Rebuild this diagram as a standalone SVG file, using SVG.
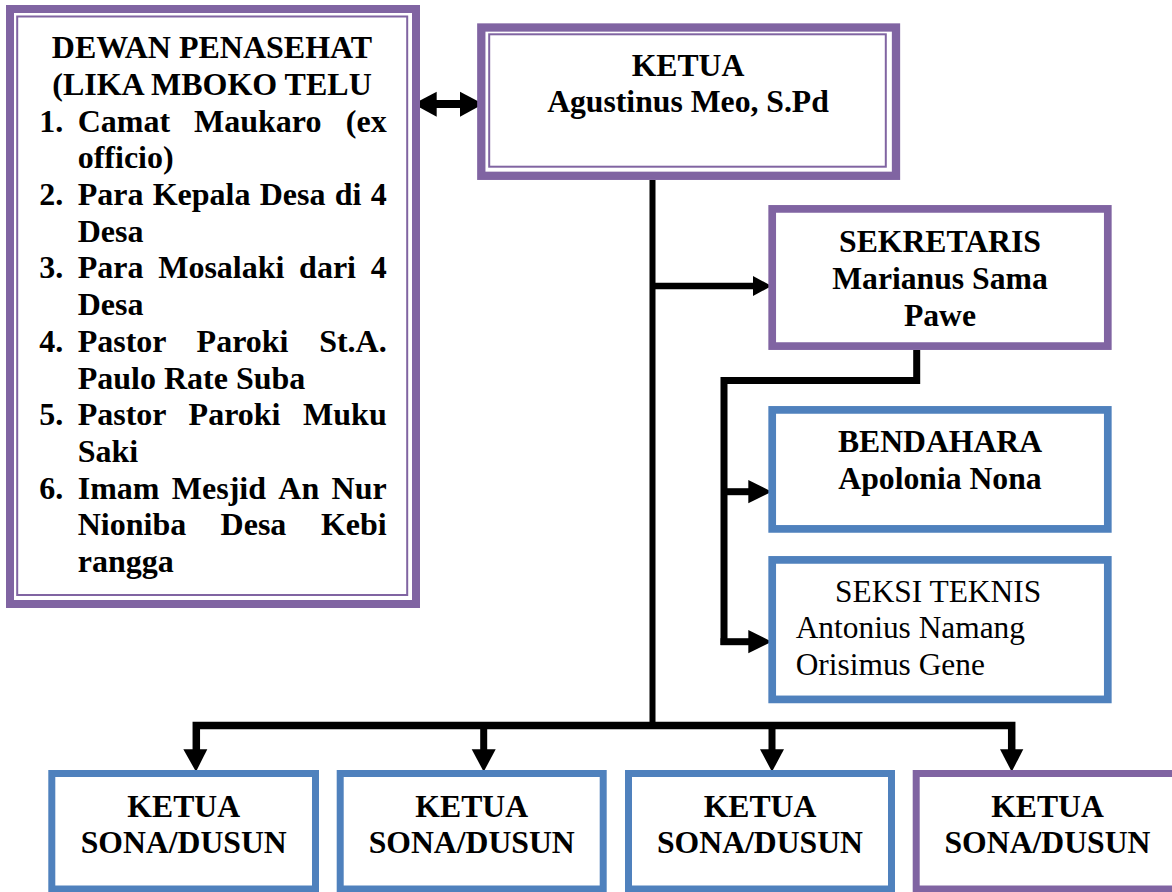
<svg xmlns="http://www.w3.org/2000/svg" width="1172" height="892" viewBox="0 0 1172 892">
<style>
.t{font-family:"Liberation Serif","Times New Roman",serif;fill:#000;}
.b{font-weight:bold;font-size:31.7px;}
.bd{font-weight:bold;font-size:32px;}
.r{font-weight:normal;font-size:31.4px;}
.c{text-anchor:middle;}
.e{text-anchor:end;}
.pu{fill:#fff;stroke:#8064A2;}
.bl{fill:#fff;stroke:#4F81BD;}
.thin{fill:none;stroke:#8064A2;stroke-width:2;}
.ln{fill:none;stroke:#000;stroke-linejoin:miter;stroke-linecap:butt;}
.ah{fill:#000;stroke:none;}
</style>
<rect x="0" y="0" width="1172" height="892" fill="#fff"/>

<g id="connectors">
  <!-- double arrow dewan <-> ketua -->
  <line class="ln" x1="434" y1="104" x2="462" y2="104" stroke-width="8"/>
  <polygon class="ah" points="413.3,104 436.7,91.7 436.7,116.7"/>
  <polygon class="ah" points="483.3,104 460,91.7 460,116.7"/>
  <!-- main vertical -->
  <line class="ln" x1="652.5" y1="180" x2="652.5" y2="729" stroke-width="6"/>
  <!-- to sekretaris -->
  <line class="ln" x1="652.5" y1="286" x2="756" y2="286" stroke-width="6.5"/>
  <polygon class="ah" points="771.5,286 753,276 753,296"/>
  <!-- sekretaris down to bendahara / seksi -->
  <polyline class="ln" points="916.7,350 916.7,380.5 724,380.5 724,645" stroke-width="7"/>
  <line class="ln" x1="724" y1="491.7" x2="750" y2="491.7" stroke-width="7"/>
  <polygon class="ah" points="771.7,491.7 748.3,480 748.3,503.3"/>
  <line class="ln" x1="720.5" y1="641.7" x2="750" y2="641.7" stroke-width="7"/>
  <polygon class="ah" points="771.7,641.7 748.3,630 748.3,653.3"/>
  <!-- bottom bus -->
  <polyline class="ln" points="196.3,751 196.3,725.5 1011.7,725.5 1011.7,751" stroke-width="7.5"/>
  <line class="ln" x1="483.7" y1="725.5" x2="483.7" y2="751" stroke-width="7"/>
  <line class="ln" x1="772" y1="725.5" x2="772" y2="751" stroke-width="7"/>
  <polygon class="ah" points="196,771.7 183.3,749.3 207.3,749.3"/>
  <polygon class="ah" points="483.7,771.7 471.7,749.3 495.7,749.3"/>
  <polygon class="ah" points="772,771.7 760,749.3 784,749.3"/>
  <polygon class="ah" points="1011.7,771.7 1000,749.3 1023.3,749.3"/>
</g>

<g id="dewan">
  <rect class="pu" x="10" y="9" width="406" height="595" stroke-width="8"/>
  <rect class="thin" x="17.2" y="16.5" width="390" height="578.5"/>
  <text class="t bd c" x="212" y="58.2">DEWAN PENASEHAT</text>
  <text class="t bd c" x="212" y="94.9">(LIKA MBOKO TELU</text>

  <text class="t bd" x="39.3" y="131.6">1.</text>
  <text class="t bd" x="77.7" y="131.6">Camat</text>
  <text class="t bd" x="194" y="131.6">Maukaro</text>
  <text class="t bd e" x="386.7" y="131.6">(ex</text>
  <text class="t bd" x="77.7" y="168.3">officio)</text>

  <text class="t bd" x="39.3" y="205">2.</text>
  <text class="t bd" x="77.7" y="205">Para</text>
  <text class="t bd" x="152.7" y="205">Kepala</text>
  <text class="t bd" x="259.7" y="205">Desa</text>
  <text class="t bd" x="334.7" y="205">di</text>
  <text class="t bd e" x="386.7" y="205">4</text>
  <text class="t bd" x="77.7" y="241.7">Desa</text>

  <text class="t bd" x="39.3" y="278.4">3.</text>
  <text class="t bd" x="77.7" y="278.4">Para</text>
  <text class="t bd" x="158.2" y="278.4">Mosalaki</text>
  <text class="t bd" x="299.1" y="278.4">dari</text>
  <text class="t bd e" x="386.7" y="278.4">4</text>
  <text class="t bd" x="77.7" y="315.1">Desa</text>

  <text class="t bd" x="39.3" y="351.8">4.</text>
  <text class="t bd" x="77.7" y="351.8">Pastor</text>
  <text class="t bd" x="196.6" y="351.8">Paroki</text>
  <text class="t bd e" x="386.7" y="351.8">St.A.</text>
  <text class="t bd" x="77.7" y="388.5">Paulo Rate Suba</text>

  <text class="t bd" x="39.3" y="425.2">5.</text>
  <text class="t bd" x="77.7" y="425.2">Pastor</text>
  <text class="t bd" x="188.6" y="425.2">Paroki</text>
  <text class="t bd e" x="386.7" y="425.2">Muku</text>
  <text class="t bd" x="77.7" y="461.9">Saki</text>

  <text class="t bd" x="39.3" y="498.6">6.</text>
  <text class="t bd" x="77.7" y="498.6">Imam</text>
  <text class="t bd" x="171.8" y="498.6">Mesjid</text>
  <text class="t bd" x="278.3" y="498.6">An</text>
  <text class="t bd e" x="386.7" y="498.6">Nur</text>
  <text class="t bd" x="77.7" y="535.3">Nioniba</text>
  <text class="t bd" x="220.6" y="535.3">Desa</text>
  <text class="t bd e" x="386.7" y="535.3">Kebi</text>
  <text class="t bd" x="77.7" y="572">rangga</text>
</g>

<g id="ketua">
  <rect class="pu" x="481.3" y="27.5" width="414.7" height="148.3" stroke-width="8.3"/>
  <rect class="thin" x="489.2" y="34.3" width="396.6" height="132.4"/>
  <text class="t b c" x="688" y="76">KETUA</text>
  <text class="t b c" x="688" y="111.7">Agustinus Meo, S.Pd</text>
</g>

<g id="sekretaris">
  <rect class="pu" x="772.2" y="208.9" width="335.6" height="137.2" stroke-width="7.7"/>
  <text class="t b c" x="940" y="252">SEKRETARIS</text>
  <text class="t b c" x="940" y="289">Marianus Sama</text>
  <text class="t b c" x="940" y="326">Pawe</text>
</g>

<g id="bendahara">
  <rect class="bl" x="772.2" y="409.9" width="335.6" height="119" stroke-width="7.7"/>
  <text class="t b c" x="940" y="451.7">BENDAHARA</text>
  <text class="t b c" x="940" y="489.3">Apolonia Nona</text>
</g>

<g id="seksi">
  <rect class="bl" x="772.2" y="559.9" width="335.6" height="139.5" stroke-width="7.7"/>
  <text class="t r" x="835" y="601.7">SEKSI TEKNIS</text>
  <text class="t r" x="795.7" y="637.5">Antonius Namang</text>
  <text class="t r" x="795.7" y="675">Orisimus Gene</text>
</g>

<g id="sona1">
  <rect class="bl" x="51.8" y="773.5" width="263.7" height="115.5" stroke-width="7"/>
  <text class="t b c" x="183.7" y="816.7">KETUA</text>
  <text class="t b c" x="183.7" y="853.3">SONA/DUSUN</text>
</g>
<g id="sona2">
  <rect class="bl" x="340.2" y="773.5" width="263" height="115.5" stroke-width="7"/>
  <text class="t b c" x="471.7" y="816.7">KETUA</text>
  <text class="t b c" x="471.7" y="853.3">SONA/DUSUN</text>
</g>
<g id="sona3">
  <rect class="bl" x="628.5" y="773.5" width="263" height="115.5" stroke-width="7"/>
  <text class="t b c" x="760" y="816.7">KETUA</text>
  <text class="t b c" x="760" y="853.3">SONA/DUSUN</text>
</g>
<g id="sona4">
  <rect class="pu" x="916.2" y="773.5" width="263" height="115.5" stroke-width="7"/>
  <text class="t b c" x="1047.5" y="816.7">KETUA</text>
  <text class="t b c" x="1047.5" y="853.3">SONA/DUSUN</text>
</g>
</svg>
